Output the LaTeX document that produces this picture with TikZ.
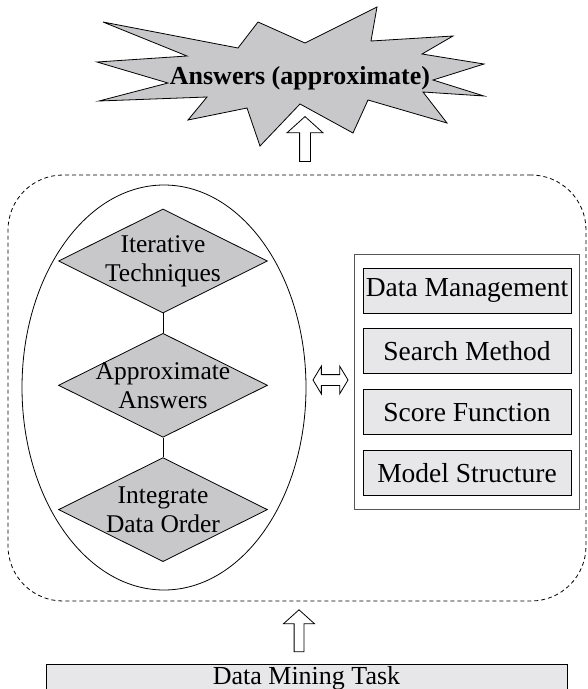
\documentclass[tikz,border=0pt]{standalone}
\usepackage{fontspec}
\setmainfont{Liberation Serif}
\usetikzlibrary{positioning,shapes.geometric,shapes.arrows,fit}

\definecolor{shade}{RGB}{200,200,202}
\definecolor{lightshade}{RGB}{231,231,233}
\definecolor{rim}{RGB}{85,85,85}

\begin{document}
\begin{tikzpicture}[
			x=1pt, y=-1pt,
			node distance=15pt,
			line width=0.8pt,
			every node/.style={align=center},
			decision/.style={
					diamond,
					draw,
					fill=shade,
					minimum width=209pt,
					minimum height=104pt,
					inner xsep=-30pt,
					inner ysep=-14pt,
					font=\fontsize{25.5}{29}\selectfont
				},
			part/.style={
					draw,
					fill=lightshade,
					minimum width=208pt,
					minimum height=45pt,
					inner sep=0pt,
					font=\fontsize{27.5}{29}\selectfont
				},
			fatarrow/.style={
					single arrow,
					draw,
					fill=white,
					single arrow tip angle=96,
					shape border rotate=90
				}
		]

		\useasboundingbox (0,0) rectangle (588,689);
		\clip (0,0) rectangle (588,689);

		% outer loop of the engine
		\node (frame) [draw, dash pattern=on 4pt off 3pt,
			rounded corners=55pt,
			minimum width=578pt, minimum height=426pt] at (297,388) {};

		\node (oval) [ellipse, draw,
			minimum width=284pt, minimum height=405pt] at (164,387.5) {};

		\node (iterate) [decision] at (163,261) {Iterative\\Techniques};
		\node (approx) [decision, below=19.5pt of iterate] {Approximate\\Answers};
		\node (integrate) [decision, below=19.5pt of approx] {Integrate\\Data Order};

		\draw (iterate) -- (approx);
		\draw (approx) -- (integrate);

		% components
		\node (manage) [part] at (467,290.5) {Data Management};
		\node (search) [part, below=of manage] {Search Method};
		\node (score) [part, below=of search] {Score Function};
		\node (model) [part, below=of score] {Model Structure};

		\node (components) [draw=rim, line width=1.2pt,
			fit=(manage)(model),
			inner xsep=8pt, inner ysep=13.5pt] {};

		\node (link) [double arrow, draw, fill=white,
			double arrow tip angle=118,
			double arrow head extend=8.5pt,
			inner xsep=0pt, inner ysep=5pt,
			minimum height=35pt] at (330.5,380) {};

		% task and answers
		\node (task) [draw, fill=lightshade, anchor=north,
			minimum width=521pt, minimum height=28pt, inner ysep=2pt,
			font=\fontsize{26}{28}\selectfont] at (306.5,664) {Data Mining Task};

		\node (lift) [fatarrow, inner sep=4.5pt,
			single arrow head extend=10.5pt,
			minimum height=42pt] at (299,633) {};

		\draw[fill=shade] (103,22) -- (238,48) -- (258,22) -- (305,43)
			-- (377,7) -- (371,41) -- (453,36) -- (422,54) -- (484,64)
			-- (433,80) -- (484,96) -- (423,92) -- (447,123) -- (368,100)
			-- (353,133) -- (300,104) -- (260,146) -- (247,108) -- (188,120)
			-- (207,97) -- (99,101) -- (168,83) -- (97,62) -- (187,56) -- cycle;
		\node (answers) [font=\bfseries\fontsize{26}{28}\selectfont]
			at (300,78) {Answers (approximate)};

		\node (out) [fatarrow, inner sep=5pt,
			single arrow head extend=12.5pt,
			minimum height=45pt] at (305,141.5) {};

	\end{tikzpicture}
\end{document}
